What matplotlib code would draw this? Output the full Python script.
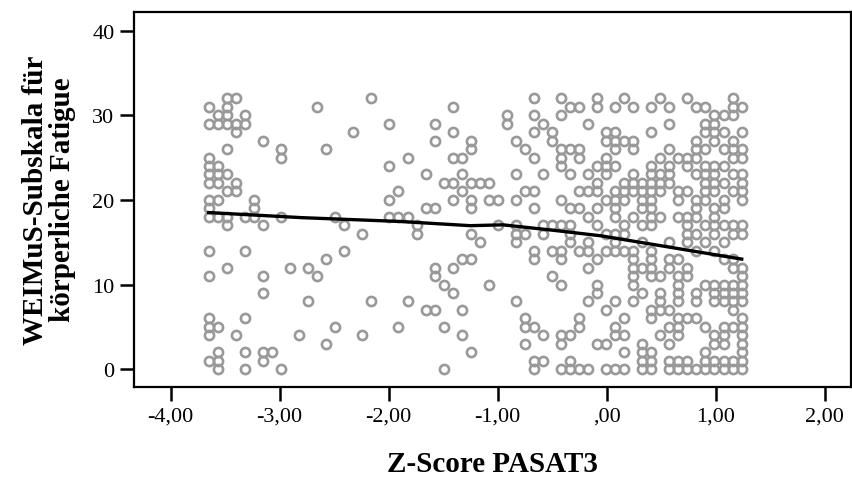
import numpy as np
import matplotlib.pyplot as plt

# Spalten der Punktwolke (Z-Score PASAT3) und die Werte der Fatigue-Skala je Spalte
pasat_z = [-3.65, -3.567, -3.484, -3.401, -3.318, -3.235, -3.152, -3.069, -2.987,
           -2.904, -2.821, -2.738, -2.655, -2.572, -2.489, -2.406, -2.324, -2.241,
           -2.158, -1.992, -1.909, -1.826, -1.743, -1.661, -1.578, -1.495, -1.412,
           -1.329, -1.246, -1.163, -1.080, -0.998, -0.915, -0.832, -0.749, -0.666,
           -0.583, -0.500, -0.418, -0.335, -0.253, -0.170, -0.087, -0.004, 0.079,
           0.162, 0.244, 0.327, 0.410, 0.493, 0.576, 0.659, 0.742, 0.824, 0.907,
           0.990, 1.073, 1.156, 1.239]

fatigue = [
    [31, 29, 25, 24, 23, 22, 20, 19, 18, 14, 11, 6, 5, 4, 1],
    [30, 29, 24, 23, 22, 20, 18, 5, 2, 1, 0],
    [32, 31, 30, 29, 26, 23, 21, 18, 17, 12],
    [32, 29, 28, 22, 21, 4],
    [30, 29, 18, 14, 6, 2, 0],
    [20, 19, 18],
    [27, 17, 11, 9, 2, 1],
    [2],
    [26, 25, 18, 0],
    [12],
    [4],
    [12, 8],
    [31, 11],
    [26, 13, 3],
    [18, 5],
    [17, 14],
    [28],
    [16, 4],
    [32, 8],
    [29, 24, 20, 18],
    [21, 18, 5],
    [25, 18, 8],
    [17, 16],
    [23, 19, 7],
    [29, 27, 19, 12, 11, 7],
    [22, 10, 5, 0],
    [31, 28, 25, 22, 20, 12, 9],
    [25, 23, 21, 13, 7, 4],
    [27, 26, 22, 20, 19, 16, 13, 2],
    [22, 15],
    [22, 20, 10],
    [20, 17],
    [30, 29],
    [27, 23, 20, 17, 16, 15, 8],
    [26, 21, 16, 6, 5, 3],
    [32, 30, 28, 25, 21, 19, 14, 13, 5, 1, 0],
    [29, 23, 17, 16, 4, 1],
    [28, 27, 17, 14, 11],
    [32, 30, 26, 25, 24, 20, 17, 14, 13, 10, 4, 3, 0],
    [31, 26, 23, 19, 17, 16, 15, 4, 1, 0],
    [31, 26, 25, 21, 19, 14, 6, 5, 0],
    [29, 23, 21, 18, 15, 14, 12, 8, 0],
    [32, 31, 24, 22, 21, 19, 17, 13, 10, 9, 3],
    [28, 27, 25, 24, 23, 20, 16, 14, 7, 3, 0],
    [31, 28, 27, 26, 24, 21, 20, 19, 18, 16, 15, 14, 8, 5, 4, 0],
    [32, 27, 22, 21, 20, 17, 16, 14, 6, 4, 2, 0],
    [31, 27, 26, 23, 22, 21, 18, 14, 13, 12, 11, 10, 8],
    [22, 21, 20, 19, 17, 15, 12, 9, 3, 2, 1, 0],
    [31, 28, 24, 23, 22, 21, 20, 19, 18, 17, 14, 13, 12, 11, 7, 6, 2, 1, 0],
    [32, 25, 23, 22, 21, 18, 11, 9, 8, 7, 4],
    [31, 29, 26, 24, 23, 22, 15, 13, 12, 7, 5, 3, 1, 0],
    [25, 21, 20, 18, 13, 11, 10, 9, 8, 6, 5, 4, 1, 0],
    [32, 25, 24, 21, 18, 17, 16, 15, 12, 11, 6, 1, 0],
    [31, 27, 26, 25, 23, 20, 19, 18, 16, 14, 9, 8, 6, 0],
    [31, 29, 28, 26, 24, 23, 22, 21, 20, 17, 15, 10, 5, 2, 1, 0],
    [30, 29, 28, 27, 24, 23, 22, 21, 19, 18, 17, 16, 14, 10, 9, 8, 4, 3, 1, 0],
    [30, 28, 26, 24, 22, 20, 19, 17, 15, 13, 10, 9, 8, 5, 4, 3, 1, 0],
    [32, 31, 30, 27, 26, 25, 23, 21, 17, 16, 13, 12, 10, 9, 8, 7, 5, 1, 0],
    [31, 28, 26, 25, 23, 22, 21, 20, 17, 16, 12, 11, 10, 9, 8, 6, 5, 4, 3, 2, 1, 0],
]

# Loess-Anpassungslinie
loess_z = [-3.65, -2.8, -1.9, -1.25, -0.95, -0.45, -0.05, 1.24]
loess_fatigue = [18.5, 17.9, 17.45, 16.95, 17.05, 16.35, 15.75, 13.0]

x_ticks = [-4, -3, -2, -1, 0, 1, 2]
x_labels = ['-4,00', '-3,00', '-2,00', '-1,00', ',00', '1,00', '2,00']
y_ticks = [0, 10, 20, 30, 40]

# Punkte je Spalte ausrollen
xs = np.repeat(pasat_z, [len(v) for v in fatigue])
ys = np.concatenate([np.array(v, dtype=float) for v in fatigue])

plt.rcParams['font.family'] = ['Liberation Serif', 'DejaVu Serif']

fig = plt.figure(figsize=(8.53, 4.81), dpi=100)
ax = fig.add_axes([0.157, 0.194, 0.841, 0.780])

ax.plot(xs, ys, linestyle='none', marker='o', markersize=6.6,
        markerfacecolor='none', markeredgecolor='#999999', markeredgewidth=1.9)
ax.plot(loess_z, loess_fatigue, color='black', linewidth=2.4)

ax.set_xlim(-4.336, 2.245)
ax.set_ylim(-2.07, 42.25)
ax.set_xticks(x_ticks)
ax.set_xticklabels(x_labels)
ax.set_yticks(y_ticks)

for side in ['left', 'right', 'top', 'bottom']:
    ax.spines[side].set_linewidth(1.6)
    ax.spines[side].set_color('black')
ax.tick_params(axis='both', direction='out', length=10, width=1.8,
               labelsize=16, pad=4)

ax.set_xlabel('Z-Score PASAT3', fontsize=21, fontweight='bold', labelpad=18)
ax.set_ylabel('WEIMuS-Subskala für\nkörperliche Fatigue', fontsize=21,
              fontweight='bold', linespacing=1.0, labelpad=12)

fig.savefig('out.png', dpi=100)
